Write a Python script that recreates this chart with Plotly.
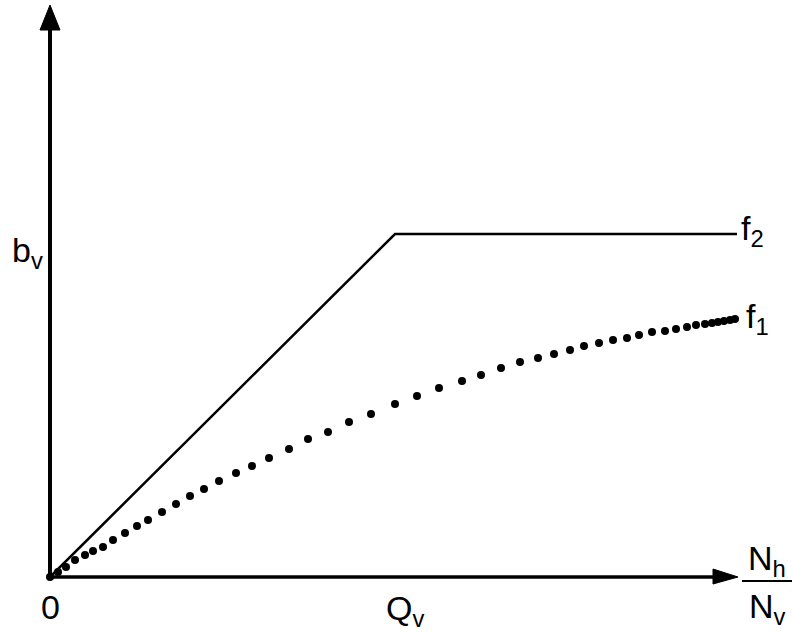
import plotly.graph_objects as go

# values (arbitrary units, origin at 0)
f2_x = [0, 345, 687]
f2_y = [0, 343, 343]

f1_x = [0, 8, 16, 25, 35, 43, 53, 63, 75, 87, 98, 112, 126, 140, 154, 169, 186,
        202, 219, 239, 258, 278, 299, 321, 345, 367, 389, 412, 431, 451, 470,
        488, 504, 520, 534, 549, 563, 577, 589, 602, 615, 626, 637, 646, 655,
        662, 668, 674, 680, 685]
f1_y = [0, 5, 10, 17, 22, 26, 30, 37, 44, 51, 57, 65, 73, 81, 88, 96, 104,
        111, 119, 128, 138, 145, 155, 163, 173, 181, 189, 196, 202, 209, 215,
        219, 223, 227, 231, 234, 237, 239, 242, 245, 246, 248, 250, 252, 253,
        254, 255, 256, 257, 258]

x_end = 688
y_end = 572

fig = go.Figure()

fig.add_trace(go.Scatter(x=f2_x, y=f2_y, mode='lines',
                         line=dict(color='black', width=2.5), showlegend=False))
fig.add_trace(go.Scatter(x=f1_x, y=f1_y, mode='markers',
                         marker=dict(color='black', size=8), showlegend=False))

# axes with arrowheads
fig.add_shape(type='line', x0=0, y0=0, x1=0, y1=y_end - 20,
              line=dict(color='black', width=4))
fig.add_shape(type='line', x0=0, y0=0, x1=x_end - 20, y1=0,
              line=dict(color='black', width=3.5))
fig.add_shape(type='path',
              path=f'M -10 {y_end - 25} L 10 {y_end - 25} L 0 {y_end} Z',
              fillcolor='black', line=dict(color='black', width=1))
fig.add_shape(type='path',
              path=f'M {x_end - 25} 8 L {x_end - 25} -7 L {x_end} 0 Z',
              fillcolor='black', line=dict(color='black', width=1))
# fraction bar
fig.add_shape(type='line', x0=692, y0=-4, x1=742, y1=-4,
              line=dict(color='black', width=2))

font = dict(family='Liberation Sans, Arial', size=34, color='black')
cond = dict(family='Liberation Sans Narrow, Liberation Sans, Arial', size=34, color='black')

ann = [
    dict(x=-23, y=325, text='b<sub>v</sub>', font=font),
    dict(x=0, y=-30, text='0', font=font),
    dict(x=355, y=-33, text='Q<sub>v</sub>', font=font),
    dict(x=702, y=347, text='f<sub>2</sub>', font=cond),
    dict(x=707, y=259, text='f<sub>1</sub>', font=cond),
    dict(x=717, y=17, text='N<sub>h</sub>', font=font),
    dict(x=717, y=-31, text='N<sub>v</sub>', font=font),
]
for a in ann:
    fig.add_annotation(showarrow=False, xref='x', yref='y', **a)

fig.update_layout(
    width=792, height=632,
    margin=dict(l=0, r=0, t=0, b=0),
    paper_bgcolor='white', plot_bgcolor='white',
    xaxis=dict(range=[-50, 742], visible=False, fixedrange=True),
    yaxis=dict(range=[-55, 577], visible=False, fixedrange=True),
)

fig.write_html("out.html", config={'displayModeBar': False},
               post_script="document.body.style.margin='0';")
